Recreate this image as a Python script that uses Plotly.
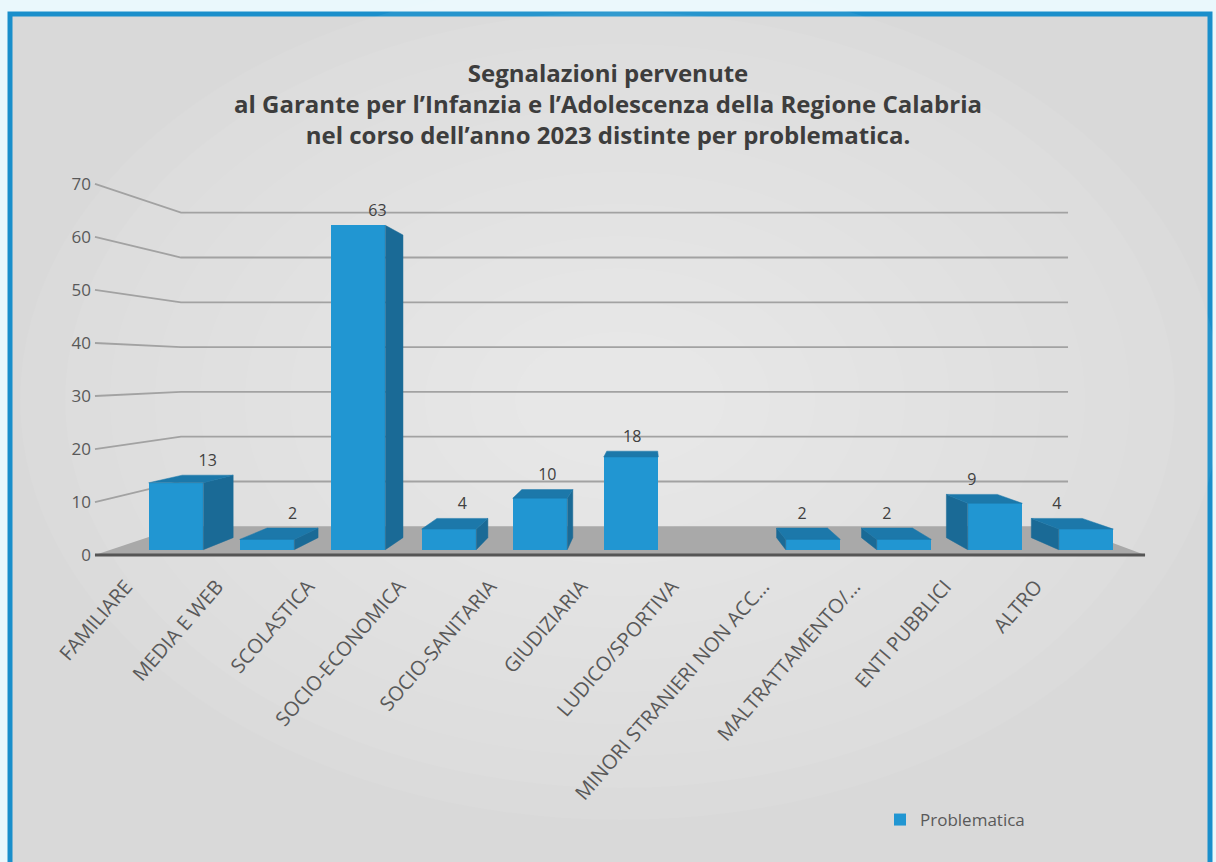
import plotly.graph_objects as go

# ---------------- data ----------------
categories = ["FAMILIARE", "MEDIA E WEB", "SCOLASTICA", "SOCIO-ECONOMICA",
              "SOCIO-SANITARIA", "GIUDIZIARIA", "LUDICO/SPORTIVA",
              "MINORI STRANIERI NON ACC…", "MALTRATTAMENTO/…",
              "ENTI PUBBLICI", "ALTRO"]
values = [13, 2, 63, 4, 10, 18, None, 2, 2, 9, 4]
y_ticks = [0, 10, 20, 30, 40, 50, 60, 70]
series_name = "Problematica"
title_lines = ["Segnalazioni pervenute",
               "al Garante per l’Infanzia e l’Adolescenza della Regione Calabria",
               "nel corso dell’anno 2023 distinte per problematica."]

# ------------- 3D-look perspective parameters (in axis units) -------------
XC, YC = 5.2, 35.0          # vanishing point
S_FRONT = 1.03              # front edge of floor / label plane
S_WALL = 0.87               # back wall
S_BACK = 0.933              # back face of bars
HALF = 0.3                  # half bar width
XL, XR = -0.713, 10.49      # floor left/right extent

def proj(x, y, s):
    return XC + (x - XC) * s, YC + (y - YC) * s

def path_of(pts, close=False):
    p = "M " + " L ".join(f"{x:.4f},{y:.4f}" for x, y in pts)
    return p + (" Z" if close else "")

idx = list(range(len(categories)))

FRONT = "#2196d2"
SIDE = "#1a6a96"
TOP = "#1c78aa"
GRID = "#a2a2a2"

# ---------------- layout geometry (pixels) ----------------
L, R, T, B = 92, 66, 179, 302
W, H = 1216, 862
pw, ph = W - L - R, H - T - B

def pxx(px):
    return (px - L) / pw

def pxy(py):
    return (H - B - py) / ph

shapes = [
    dict(type="rect", xref="paper", yref="paper", x0=pxx(10), x1=pxx(1210), y0=pxy(875), y1=pxy(14),
         line=dict(color="#1a8fcb", width=5), fillcolor="#d9d9d9", layer="below"),
]
# soft radial lightening of the background
cx, cy = 620, 400
for k in range(12):
    rx = 600 - k * 45
    ry = 420 - k * 32
    shapes.append(dict(type="circle", xref="paper", yref="paper",
                       x0=pxx(cx - rx), x1=pxx(cx + rx), y0=pxy(cy + ry), y1=pxy(cy - ry),
                       line=dict(width=0), fillcolor="rgba(255,255,255,0.055)", layer="below"))

# gridlines (side wall diagonal + back wall horizontal)
for t in y_ticks[1:]:
    pts = [proj(XL, t, S_FRONT), proj(XL, t, S_WALL), proj(XR, t, S_WALL)]
    shapes.append(dict(type="path", xref="x", yref="y", path=path_of(pts),
                       line=dict(color=GRID, width=1.8), layer="below"))
# floor
fl = [proj(XL, 0, S_FRONT), proj(XR, 0, S_FRONT), proj(XR, 0, S_WALL), proj(XL, 0, S_WALL)]
shapes.append(dict(type="path", xref="x", yref="y", path=path_of(fl, close=True),
                   fillcolor="#a9a9a9", line=dict(width=0), layer="below"))
fe = [proj(XL, 0, S_FRONT), proj(XR, 0, S_FRONT)]
shapes.append(dict(type="path", xref="x", yref="y", path=path_of(fe),
                   line=dict(color="#555555", width=3), layer="below"))

fig = go.Figure()

# bar front faces
fig.add_trace(go.Bar(x=idx, y=values, width=2 * HALF, name=series_name,
                     marker=dict(color=FRONT, line=dict(width=0)), showlegend=True,
                     hoverinfo="y"))

# bar side and top faces
for i, v in zip(idx, values):
    if v is None:
        continue
    edge = None
    if i + HALF < XC:
        edge = i + HALF
    elif i - HALF > XC:
        edge = i - HALF
    if edge is not None:
        pts = [proj(edge, 0, 1), proj(edge, v, 1), proj(edge, v, S_BACK), proj(edge, 0, S_BACK)]
        fig.add_trace(go.Scatter(x=[p[0] for p in pts] + [pts[0][0]],
                                 y=[p[1] for p in pts] + [pts[0][1]],
                                 fill="toself", fillcolor=SIDE, mode="lines",
                                 line=dict(color=SIDE, width=0.5),
                                 hoverinfo="skip", showlegend=False))
    if v < YC:
        pts = [proj(i - HALF, v, 1), proj(i + HALF, v, 1), proj(i + HALF, v, S_BACK), proj(i - HALF, v, S_BACK)]
        fig.add_trace(go.Scatter(x=[p[0] for p in pts] + [pts[0][0]],
                                 y=[p[1] for p in pts] + [pts[0][1]],
                                 fill="toself", fillcolor=TOP, mode="lines",
                                 line=dict(color=TOP, width=0.5),
                                 hoverinfo="skip", showlegend=False))

# data labels
lx, ly, lt = [], [], []
for i, v in zip(idx, values):
    if v is None:
        continue
    bx, by = proj(i, v, S_BACK)
    lx.append(bx); ly.append(max(v, by) + 1.0); lt.append(str(v))
fig.add_trace(go.Scatter(x=lx, y=ly, mode="text", text=lt, textposition="top center",
                         textfont=dict(family="Open Sans", size=16, color="#404040"),
                         hoverinfo="skip", showlegend=False))

fig.update_layout(
    width=W, height=H,
    margin=dict(l=L, r=R, t=T, b=B),
    paper_bgcolor="#eaf8fc",
    plot_bgcolor="rgba(0,0,0,0)",
    shapes=shapes,
    title=dict(text="<br>".join(title_lines), x=608 / W, xref="container", xanchor="center",
               y=1 - 82 / H, yref="container", yanchor="top",
               font=dict(family="Open Sans", size=24, color="#3d3d3d", weight="bold")),
    xaxis=dict(range=[-0.923, 10.703], showgrid=False, zeroline=False, showline=False,
               tickmode="array", tickvals=[i - 0.55 for i in idx], ticktext=categories,
               tickangle=-49, ticks="outside", ticklen=6, tickcolor="rgba(0,0,0,0)",
               tickfont=dict(family="Open Sans", size=20, color="#595959"), fixedrange=True),
    yaxis=dict(range=[-2, 72], showgrid=False, zeroline=False, showline=False,
               tickmode="array", tickvals=[YC + (t - YC) * S_FRONT for t in y_ticks],
               ticktext=[str(t) for t in y_ticks],
               tickfont=dict(family="Open Sans", size=17, color="#595959"), fixedrange=True),
    legend=dict(x=pxx(880), y=pxy(820), xanchor="left", yanchor="middle",
                bgcolor="rgba(0,0,0,0)", font=dict(family="Open Sans", size=17, color="#595959")),
    bargap=0,
)

fig.write_html("out.html")
